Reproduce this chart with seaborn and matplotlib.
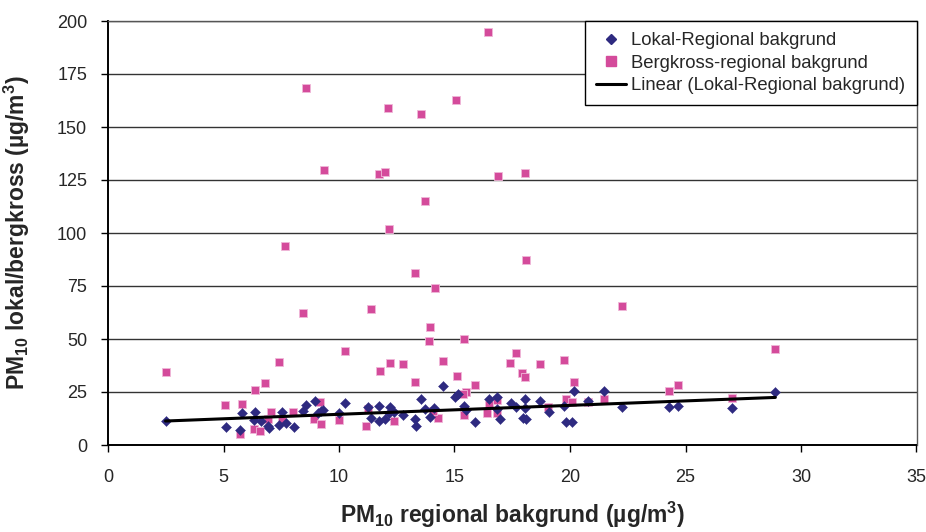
import numpy as np
import pandas as pd
import seaborn as sns
import matplotlib
matplotlib.use("Agg")
import matplotlib.pyplot as plt
from matplotlib.lines import Line2D

# ---- data ----
lokal_x = [2.49, 5.09, 5.73, 5.82, 6.38, 6.32, 6.64, 6.99, 6.93, 7.52, 7.40, 7.72, 8.05,
           8.44, 8.59, 8.95, 9.23, 9.10, 9.30, 10.26, 10.0, 11.25, 11.37, 11.75, 11.75,
           11.97, 12.19, 12.15, 12.40, 12.76, 13.31, 13.34, 13.55, 13.74, 13.94, 14.13,
           14.52, 15.04, 15.14, 15.43, 15.5, 15.90, 16.51, 16.84, 16.84, 16.96, 17.43,
           17.68, 18.06, 18.06, 17.95, 18.1, 18.68, 19.07, 19.76, 19.82, 20.08, 20.18,
           20.76, 21.48, 22.27, 24.29, 24.66, 27.02, 28.89]
lokal_y = [11.2, 8.3, 7.1, 15.2, 15.7, 11.8, 11.5, 8.2, 9.0, 15.6, 9.4, 10.5, 8.6,
           16.0, 18.9, 20.9, 16.0, 15.0, 16.5, 19.7, 14.9, 18.1, 12.6, 18.4, 11.1,
           12.1, 17.8, 15.0, 15.7, 14.2, 12.1, 9.1, 21.7, 16.8, 13.1, 17.3,
           28.0, 22.8, 24.1, 18.4, 16.5, 11.0, 21.7, 22.5, 17.0, 12.3, 20.0,
           17.8, 21.7, 17.5, 12.6, 12.3, 20.9, 15.7, 18.4, 11.0, 10.7, 25.3,
           20.9, 25.5, 17.8, 17.9, 18.5, 17.3, 25.0]

berg_x = [2.49, 5.07, 5.80, 7.39, 6.38, 6.81, 5.73, 6.32, 6.58, 7.06, 6.94, 7.52, 8.01,
          8.93, 9.20, 9.16, 10.26, 11.77, 12.22, 12.76, 13.31, 13.90, 13.94, 14.52,
          15.11, 15.43, 15.90, 15.51, 15.38, 17.42, 17.68, 17.93, 18.06, 18.68, 10.0,
          11.25, 11.16, 12.40, 14.27, 14.06, 15.43, 16.41, 16.51, 16.84, 16.84, 19.05,
          19.76, 20.18, 19.82, 20.08, 20.76, 21.48, 24.29, 24.66, 27.02, 28.89,
          16.45, 8.57, 12.10, 15.05, 13.54, 9.36, 11.74, 12.0, 16.88, 13.73, 12.17,
          7.68, 13.30, 14.17, 8.44, 11.37, 18.05, 18.09, 22.27]
berg_y = [34.3, 18.9, 19.3, 39.0, 25.9, 29.1, 5.3, 7.7, 6.8, 15.7, 12.1, 11.2, 15.7,
          12.1, 9.9, 20.4, 44.5, 34.9, 38.8, 38.0, 29.9, 49.2, 55.8, 39.6,
          32.5, 49.9, 28.3, 25.2, 24.1, 38.8, 43.5, 33.8, 32.1, 38.0, 11.8,
          16.8, 9.1, 11.5, 12.9, 16.0, 14.2, 15.2, 18.9, 21.1, 15.2, 17.8,
          40.1, 29.7, 21.7, 20.1, 20.4, 21.5, 25.6, 28.1, 22.0, 45.3,
          194.7, 168.5, 159.1, 162.6, 156.1, 129.6, 127.7, 128.6, 127.0, 115.1, 102.0,
          93.9, 81.3, 73.9, 62.1, 64.2, 128.5, 87.3, 65.6]

x_ticks = [0, 5, 10, 15, 20, 25, 30, 35]
y_ticks = [0, 25, 50, 75, 100, 125, 150, 175, 200]

lbl_lokal = "Lokal-Regional bakgrund"
lbl_berg = "Bergkross-regional bakgrund"
lbl_lin = "Linear (Lokal-Regional bakgrund)"

NAVY = "#2E2A80"
PINK = "#D44B9B"

sns.set_theme(style="white")
plt.rcParams["font.family"] = ["Liberation Sans", "DejaVu Sans"]
plt.rcParams["mathtext.fontset"] = "custom"
plt.rcParams["mathtext.bf"] = "Liberation Sans:bold"
plt.rcParams["mathtext.rm"] = "Liberation Sans:bold"
plt.rcParams["mathtext.default"] = "bf"

df_l = pd.DataFrame({"x": lokal_x, "y": lokal_y})
df_b = pd.DataFrame({"x": berg_x, "y": berg_y})

fig = plt.figure(figsize=(9.26, 5.32), dpi=100)
ax = fig.add_axes([108 / 926, 1 - 445 / 532, (916.5 - 108) / 926, (445 - 21) / 532])

sns.scatterplot(data=df_b, x="x", y="y", marker="s", s=34, color=PINK,
                edgecolor="#F0B8D8", linewidth=0.6, ax=ax, zorder=3)
sns.scatterplot(data=df_l, x="x", y="y", marker="D", s=26, color=NAVY,
                edgecolor=NAVY, linewidth=0.3, ax=ax, zorder=4)
sns.regplot(data=df_l, x="x", y="y", scatter=False, ci=None, truncate=True,
            color="black", line_kws={"linewidth": 2.2, "zorder": 5}, ax=ax)

ax.set_xlim(0, 35)
ax.set_ylim(0, 200)
ax.set_xticks(x_ticks)
ax.set_yticks(y_ticks)
ax.yaxis.grid(True, color="#333333", linewidth=1.0)
ax.xaxis.grid(False)
ax.set_axisbelow(True)

for side in ["left", "bottom"]:
    ax.spines[side].set_color("black")
    ax.spines[side].set_linewidth(1.4)
for side in ["top", "right"]:
    ax.spines[side].set_color("#555555")
    ax.spines[side].set_linewidth(1.0)

ax.tick_params(axis="both", which="major", direction="out", length=5, width=1,
               color="black", labelsize=13, left=True, bottom=True)
ax.tick_params(axis="x", pad=12)
ax.tick_params(axis="y", pad=10)

ax.set_xlabel(r"PM$_{10}$ regional bakgrund (µg/m$^{3}$)", fontsize=16.5,
              fontweight="bold", labelpad=10)
ax.set_ylabel(r"PM$_{10}$ lokal/bergkross (µg/m$^{3}$)", fontsize=16.5,
              fontweight="bold", labelpad=18)

handles = [
    Line2D([], [], marker="D", linestyle="none", color=NAVY, markersize=5),
    Line2D([], [], marker="s", linestyle="none", color=PINK, markersize=6.5),
    Line2D([], [], color="black", linewidth=2.2),
]
leg = ax.legend(handles, [lbl_lokal, lbl_berg, lbl_lin], loc="upper right",
                bbox_to_anchor=(1.0, 1.0), borderaxespad=0, frameon=True,
                fancybox=False, fontsize=13.3, handlelength=1.6, handletextpad=0.3,
                labelspacing=0.3, borderpad=0.6)
leg.get_frame().set_edgecolor("black")
leg.get_frame().set_linewidth(1.0)
leg.get_frame().set_alpha(1)

fig.savefig("out.png", dpi=100)
